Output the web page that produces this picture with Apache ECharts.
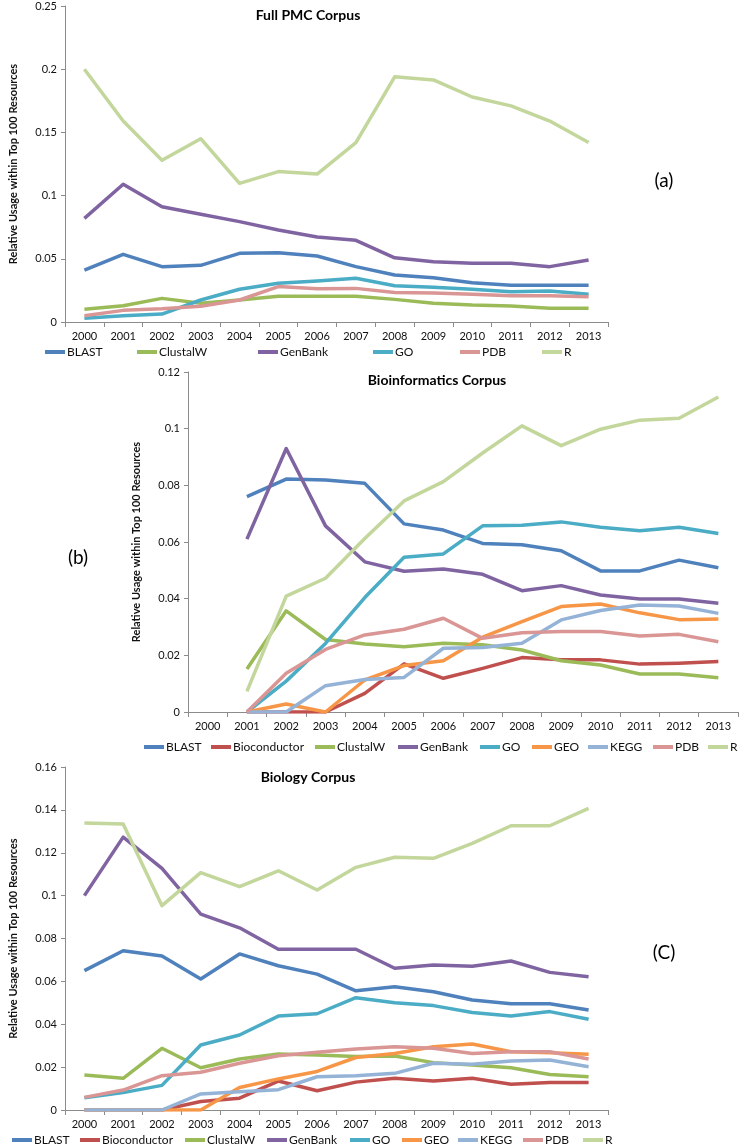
<!DOCTYPE html>
<html>
<head>
<meta charset="utf-8">
<script src="https://cdn.jsdelivr.net/npm/echarts@6/dist/echarts.min.js"></script>
<style>
html,body{margin:0;padding:0;background:#fff;}
#chart{width:741px;height:1148px;}
</style>
</head>
<body>
<div id="chart"></div>
<script>
// ---------- DATA ----------
const years = ['2000','2001','2002','2003','2004','2005','2006','2007','2008','2009','2010','2011','2012','2013'];

const namesA = ['BLAST','ClustalW','GenBank','GO','PDB','R'];
const namesBC = ['BLAST','Bioconductor','ClustalW','GenBank','GO','GEO','KEGG','PDB','R'];

// (a) Full PMC Corpus
const a_BLAST    = [0.041,0.0535,0.0438,0.0448,0.0543,0.0548,0.0522,0.0438,0.0372,0.035,0.031,0.029,0.029,0.029];
const a_ClustalW = [0.010,0.0129,0.0187,0.0148,0.0174,0.0204,0.0204,0.0204,0.0179,0.0148,0.0134,0.0127,0.0108,0.0108];
const a_GenBank  = [0.082,0.109,0.0912,0.0852,0.0794,0.0728,0.0672,0.0646,0.0508,0.0477,0.0464,0.0464,0.0438,0.049];
const a_GO       = [0.003,0.005,0.0063,0.0174,0.0259,0.0306,0.0324,0.0346,0.0287,0.0274,0.0259,0.024,0.0245,0.022];
const a_PDB      = [0.005,0.0092,0.0105,0.0125,0.0174,0.028,0.0264,0.0266,0.0234,0.023,0.022,0.0208,0.0208,0.020];
const a_R        = [0.200,0.159,0.128,0.145,0.1097,0.119,0.117,0.1419,0.194,0.1915,0.178,0.171,0.159,0.142];

// (b) Bioinformatics Corpus
const b_BLAST        = [null,0.076,0.0822,0.0819,0.0807,0.0664,0.0642,0.0595,0.059,0.0569,0.0498,0.0498,0.0536,0.0509];
const b_Bioconductor = [null,0,0,0,0.0066,0.017,0.0119,0.0154,0.0192,0.0184,0.0184,0.0169,0.0172,0.0178];
const b_ClustalW     = [null,0.0152,0.0357,0.0256,0.024,0.023,0.0243,0.0237,0.0219,0.0181,0.0166,0.0134,0.0134,0.0121];
const b_GenBank      = [null,0.061,0.093,0.0657,0.053,0.0497,0.0505,0.0486,0.0428,0.0446,0.0413,0.0399,0.0399,0.0384];
const b_GO           = [null,0,0.0109,0.0242,0.0404,0.0546,0.0558,0.0657,0.0659,0.0671,0.0652,0.064,0.0652,0.063];
const b_GEO          = [null,0,0.0028,0,0.0113,0.0164,0.0181,0.0264,0.0319,0.0372,0.0381,0.035,0.0326,0.0328];
const b_KEGG         = [null,0,0,0.0093,0.0115,0.0122,0.0225,0.0228,0.0243,0.0325,0.0358,0.0378,0.0374,0.0348];
const b_PDB          = [null,0,0.0137,0.0221,0.0272,0.0292,0.0331,0.026,0.028,0.0284,0.0284,0.0268,0.0274,0.0248];
const b_R            = [null,0.0073,0.0409,0.0472,0.0612,0.0745,0.0813,0.0914,0.101,0.094,0.0998,0.103,0.1037,0.1112];

// (c) Biology Corpus
const c_BLAST        = [0.065,0.0743,0.0718,0.0611,0.0728,0.0673,0.0634,0.0556,0.0575,0.0552,0.0513,0.0496,0.0496,0.0466];
const c_Bioconductor = [0,0,0,0.004,0.0055,0.0135,0.009,0.013,0.0148,0.0135,0.0148,0.012,0.0128,0.0128];
const c_ClustalW     = [0.0163,0.0148,0.0288,0.0197,0.0238,0.0261,0.0256,0.0249,0.0252,0.0221,0.021,0.0197,0.0166,0.0155];
const c_GenBank      = [0.100,0.1273,0.1127,0.0914,0.085,0.075,0.075,0.075,0.0661,0.0676,0.0671,0.0695,0.0642,0.0622];
const c_GO           = [0.0057,0.0081,0.0115,0.0303,0.035,0.0438,0.0449,0.0524,0.050,0.0487,0.0455,0.0438,0.0459,0.0423];
const c_GEO          = [0,0,0,0,0.0105,0.0145,0.018,0.0245,0.0264,0.0295,0.0308,0.0272,0.0267,0.026];
const c_KEGG         = [0,0,0,0.0075,0.0085,0.0095,0.0155,0.016,0.0171,0.0218,0.0213,0.0229,0.0233,0.0202];
const c_PDB          = [0.0059,0.0093,0.016,0.0176,0.0218,0.0253,0.0269,0.0285,0.0295,0.0288,0.0264,0.0272,0.0272,0.0238];
const c_R            = [0.1339,0.1334,0.0953,0.1107,0.1042,0.1116,0.1026,0.1132,0.1179,0.1174,0.1244,0.1326,0.1326,0.1407];

const titles = ['Full PMC Corpus','Bioinformatics Corpus','Biology Corpus'];
const panelLabels = ['(a)','(b)','(C)'];
const yAxisTitle = 'Relative Usage within Top 100 Resources';
const yMax = [0.25, 0.12, 0.16];
const yStep = [0.05, 0.02, 0.02];

// ---------- STYLE / LAYOUT ----------
const colors = {
  BLAST:'#4F81BD', Bioconductor:'#C0504D', ClustalW:'#9BBB59', GenBank:'#8064A2',
  GO:'#4BACC6', GEO:'#F79646', KEGG:'#95B3D7', PDB:'#D99694', R:'#C3D69B'
};
const FONT = 'Lato, "Open Sans", sans-serif';
const grids = [
  {left:60, top:6, width:548, height:316},
  {left:188, top:372, width:550, height:340},
  {left:58, top:767, width:550, height:343}
];
const legendPos = [
  {y:346, x:{BLAST:45, ClustalW:137, GenBank:258, GO:373, PDB:460, R:542}},
  {y:741, x:{BLAST:144, Bioconductor:211, ClustalW:315, GenBank:398, GO:480, GEO:532, KEGG:588, PDB:653, R:708}},
  {y:1134, x:{BLAST:12, Bioconductor:80, ClustalW:185, GenBank:267, GO:350, GEO:402, KEGG:458, PDB:523, R:583}}
];
const titlePos = [{x:308,y:15},{x:437,y:380},{x:308,y:777}];
const labelPos = [{x:664,y:181},{x:78,y:558},{x:664,y:953}];

const panelData = [
  {names:namesA, data:{BLAST:a_BLAST, ClustalW:a_ClustalW, GenBank:a_GenBank, GO:a_GO, PDB:a_PDB, R:a_R}},
  {names:namesBC, data:{BLAST:b_BLAST, Bioconductor:b_Bioconductor, ClustalW:b_ClustalW, GenBank:b_GenBank, GO:b_GO, GEO:b_GEO, KEGG:b_KEGG, PDB:b_PDB, R:b_R}},
  {names:namesBC, data:{BLAST:c_BLAST, Bioconductor:c_Bioconductor, ClustalW:c_ClustalW, GenBank:c_GenBank, GO:c_GO, GEO:c_GEO, KEGG:c_KEGG, PDB:c_PDB, R:c_R}}
];

const axisColor = '#8C8C8C';
const xAxes = [], yAxes = [], series = [], legends = [], graphics = [];

panelData.forEach((p, i) => {
  xAxes.push({
    type:'category', gridIndex:i, data:years, boundaryGap:true,
    axisLine:{lineStyle:{color:axisColor, width:1}},
    axisTick:{show:true, length:5, lineStyle:{color:axisColor}},
    axisLabel:{color:'#111', fontSize:11, fontFamily:FONT, margin:9, interval:0},
    splitLine:{show:false}
  });
  yAxes.push({
    type:'value', gridIndex:i, min:0, max:yMax[i], interval:yStep[i],
    name:yAxisTitle, nameLocation:'middle', nameGap:46, nameRotate:90,
    nameTextStyle:{color:'#111', fontSize:11, fontWeight:'bold', fontFamily:FONT},
    axisLine:{show:true, lineStyle:{color:axisColor, width:1}},
    axisTick:{show:true, length:4, lineStyle:{color:axisColor}},
    axisLabel:{color:'#111', fontSize:11, fontFamily:FONT, margin:8},
    splitLine:{show:false}
  });
  p.names.forEach(n => {
    series.push({
      type:'line', name:n, xAxisIndex:i, yAxisIndex:i, data:p.data[n],
      showSymbol:false, symbol:'none', smooth:false, connectNulls:false,
      lineStyle:{color:colors[n], width:3.5, join:'round'},
      itemStyle:{color:colors[n]}, animation:false, z:2
    });
    legends.push({
      data:[n], left:legendPos[i].x[n], top:legendPos[i].y,
      icon:'rect', itemWidth:20, itemHeight:4, itemGap:0, padding:0,
      selectedMode:false,
      textStyle:{color:'#111', fontSize:12, fontFamily:FONT, padding:[0,0,0,-3]}
    });
  });
  graphics.push({
    type:'text', x:titlePos[i].x, y:titlePos[i].y,
    style:{text:titles[i], fill:'#000', font:'bold 14px ' + FONT, textAlign:'center', textVerticalAlign:'middle', align:'center', verticalAlign:'middle'}
  });
  graphics.push({
    type:'text', x:labelPos[i].x, y:labelPos[i].y,
    style:{text:panelLabels[i], fill:'#000', font:'19px ' + FONT, textAlign:'center', textVerticalAlign:'middle', align:'center', verticalAlign:'middle'}
  });
});

const chart = echarts.init(document.getElementById('chart'), null, {renderer:'canvas'});
chart.setOption({
  backgroundColor:'#fff',
  animation:false,
  grid:grids.map(g => Object.assign({containLabel:false}, g)),
  xAxis:xAxes, yAxis:yAxes, series:series, legend:legends, graphic:graphics
});
</script>
</body>
</html>
